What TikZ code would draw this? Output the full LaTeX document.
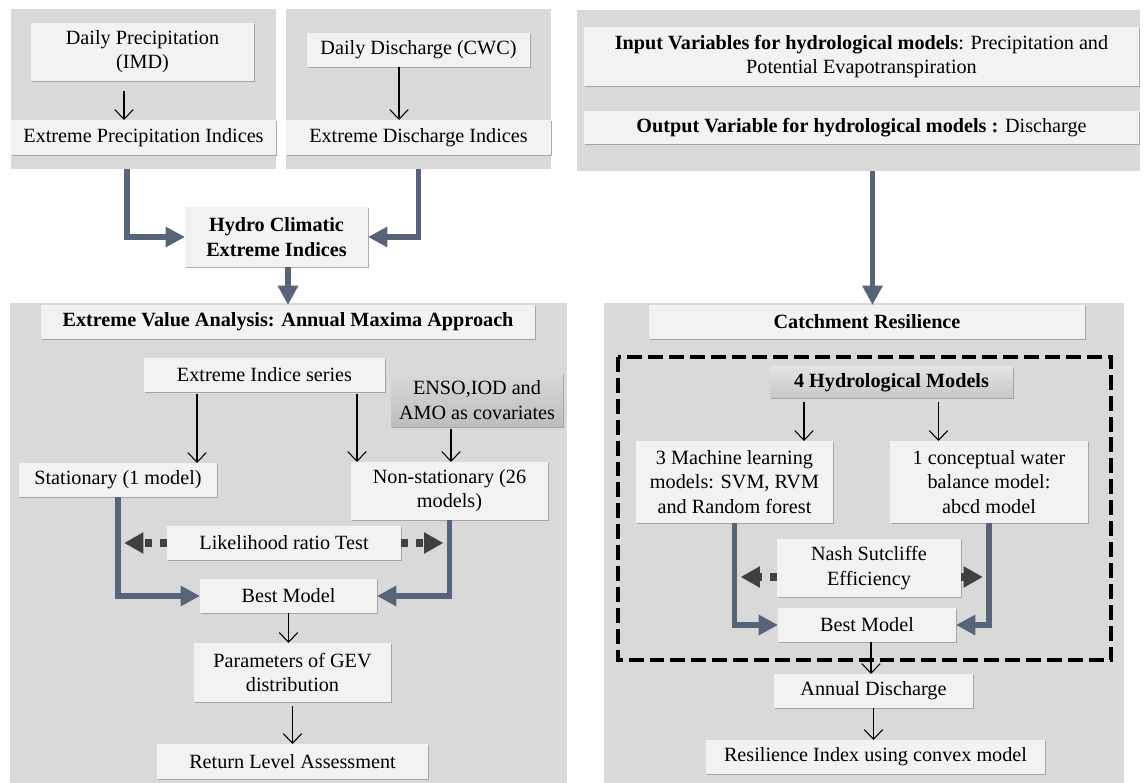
\documentclass[tikz,border=0pt]{standalone}
\usepackage{fontspec}
\setmainfont{Liberation Serif}
\usetikzlibrary{arrows.meta,shadows}
\definecolor{pnlgray}{HTML}{D9D9D9}
\definecolor{boxgray}{HTML}{F2F2F2}
\definecolor{slate}{RGB}{87,99,119}
\definecolor{dotgray}{HTML}{404040}
\begin{document}
\begin{tikzpicture}[x=0.02cm,y=-0.02cm,
  pnl/.style={fill=pnlgray,inner sep=0pt,outer sep=0pt},
  bx/.style={fill=boxgray,inner sep=0pt,outer sep=0pt,align=center,
    font=\fontsize{11.5}{13.8}\selectfont,
    drop shadow={shadow xshift=0.5pt,shadow yshift=-0.7pt,fill=black!40,opacity=0.8}},
  gbx/.style={bx,top color=gray!30,bottom color=gray!52},
  arr/.style={line width=0.6pt,-{Straight Barb[length=5.5pt,width=10.5pt]}},
  fat/.style={draw=slate,line width=3.4pt,-{Triangle[length=11pt,width=11pt]}},
  dots/.style={draw=dotgray,line width=4pt,dash pattern=on 4pt off 4.5pt,
    shorten >=3.5pt,-{Triangle[length=11pt,width=11.5pt]}},
  dashbox/.style={line width=2.8pt,dash pattern=on 8.5pt off 3.4pt}]
\useasboundingbox (0,0) rectangle (1147,783);
\node[pnl,minimum width=5.3cm,minimum height=3.2cm] (pnlA) at (143.5,89) {};
\node[pnl,minimum width=5.3cm,minimum height=3.2cm] (pnlB) at (418.5,89) {};
\node[pnl,minimum width=11.26cm,minimum height=3.22cm] (pnlC) at (858.5,90.5) {};
\node[pnl,minimum width=11.14cm,minimum height=9.6cm] (pnlD) at (288.5,543) {};
\node[pnl,minimum width=10.4cm,minimum height=9.6cm] (pnlE) at (864,543) {};
\draw[dashbox] (618,357) rectangle (1111,660);
\node[bx,minimum width=4.46cm,minimum height=1.16cm] (dprec) at (142.5,52) {Daily Precipitation\\(IMD)};
\node[bx,minimum width=5.3cm,minimum height=0.7cm] (epi) at (143.5,137.5) {Extreme Precipitation Indices};
\node[bx,minimum width=4.46cm,minimum height=0.68cm] (ddis) at (418.5,50) {Daily Discharge (CWC)};
\node[bx,minimum width=5.3cm,minimum height=0.7cm] (edi) at (418.5,137.5) {Extreme Discharge Indices};
\node[bx,minimum width=3.66cm,minimum height=1.2cm] (hydro) at (276.5,237) {\textbf{Hydro Climatic}\\\textbf{Extreme Indices}};
\node[bx,minimum width=9.88cm,minimum height=0.68cm] (eva) at (288,322) {\textbf{Extreme Value Analysis: Annual Maxima Approach}};
\node[bx,minimum width=4.82cm,minimum height=0.68cm] (eis) at (264.5,375) {Extreme Indice series};
\node[gbx,minimum width=3.44cm,minimum height=1.08cm] (enso) at (477,400) {ENSO,IOD and\\AMO as covariates};
\node[bx,minimum width=3.96cm,minimum height=0.68cm] (stat) at (118,480) {Stationary (1 model)};
\node[bx,minimum width=3.94cm,minimum height=1.16cm] (nonstat) at (449.5,491) {Non-stationary (26\\models)};
\node[bx,minimum width=4.68cm,minimum height=0.68cm] (lrt) at (284,543) {Likelihood ratio Test};
\node[bx,minimum width=3.54cm,minimum height=0.68cm] (bestL) at (288.5,596) {Best Model};
\node[bx,minimum width=3.94cm,minimum height=1.18cm] (gev) at (292.5,672.5) {Parameters of GEV\\distribution};
\node[bx,minimum width=5.42cm,minimum height=0.7cm] (rla) at (292.5,761.5) {Return Level Assessment};
\node[bx,minimum width=11.1cm,minimum height=1.18cm] (inp) at (861.5,56.5) {\textbf{Input Variables for hydrological models}: Precipitation and\\Potential Evapotranspiration};
\node[bx,minimum width=11.1cm,minimum height=0.66cm] (outp) at (861.5,127.5) {\textbf{Output Variable for hydrological models :} Discharge};
\node[bx,minimum width=8.72cm,minimum height=0.68cm] (catch) at (867,322) {\textbf{Catchment Resilience}};
\node[gbx,top color=gray!22,bottom color=gray!44,minimum width=4.86cm,minimum height=0.62cm] (hm4) at (891.5,382.5) {\textbf{4 Hydrological Models}};
\node[bx,minimum width=3.94cm,minimum height=1.64cm] (ml) at (734.5,482) {3 Machine learning\\models: SVM, RVM\\and Random forest};
\node[bx,minimum width=3.96cm,minimum height=1.64cm] (cwb) at (989,482) {1 conceptual water\\balance model:\\abcd model};
\node[bx,minimum width=3.68cm,minimum height=1.16cm] (nse) at (869,568) {Nash Sutcliffe\\Efficiency};
\node[bx,minimum width=3.56cm,minimum height=0.68cm] (bestR) at (867,625) {Best Model};
\node[bx,minimum width=3.98cm,minimum height=0.68cm] (ann) at (873.5,691) {Annual Discharge};
\node[bx,minimum width=6.78cm,minimum height=0.68cm] (res) at (875.5,757) {Resilience Index using convex model};
\draw[arr] ([xshift=-0.37cm,yshift=-0.2cm]dprec.south) -- ([xshift=-0.39cm]epi.north);
\draw[arr] ([xshift=-0.39cm]ddis.south) -- ([xshift=-0.39cm]edi.north);
\coordinate (a1) at ([xshift=-0.33cm]pnlA.south);
\draw[fat] (a1) |- (hydro.west);
\draw[fat] (pnlB.south) |- (hydro.east);
\draw[fat] (hydro.south -| eva.north) -- (eva.north);
\coordinate (s1) at ([xshift=-1.35cm,yshift=-1pt]eis.south);
\coordinate (s2) at ([xshift=1.85cm,yshift=-1pt]eis.south);
\coordinate (s3) at ([xshift=-0.52cm,yshift=-1pt]enso.south);
\draw[arr] (s1) -- (s1 |- stat.north);
\draw[arr] (s2) -- (s2 |- nonstat.north);
\draw[arr] (s3) -- (s3 |- nonstat.north);
\draw[fat] (stat.south) |- (bestL.west);
\draw[fat] (nonstat.south) |- (bestL.east);
\draw[dots] (lrt.west) -- (lrt.west -| stat.south);
\draw[dots] (lrt.east) -- (lrt.east -| nonstat.south);
\draw[arr] (bestL.south) -- (bestL.south |- gev.north);
\draw[arr] ([yshift=-2pt]gev.south) -- (gev.south |- rla.north);
\coordinate (c1) at ([xshift=0.11cm]catch.north);
\draw[fat] (c1 |- pnlC.south) -- (c1);
\coordinate (h1) at ([xshift=-1.75cm,yshift=-2pt]hm4.south);
\coordinate (h2) at ([xshift=0.94cm,yshift=-2pt]hm4.south);
\draw[arr] (h1) -- (h1 |- ml.north);
\draw[arr] (h2) -- (h2 |- cwb.north);
\draw[fat] (ml.south) |- (bestR.west);
\draw[fat] (cwb.south) |- (bestR.east);
\coordinate (n1) at ([yshift=-0.18cm]nse.west);
\coordinate (n2) at ([yshift=-0.18cm]nse.east);
\draw[dots] (n1) -- (n1 -| ml.south);
\draw[dots] (n2) -- (n2 -| cwb.south);
\draw[arr] ([xshift=0.08cm]bestR.south) -- ([xshift=0.08cm]bestR.south |- ann.north);
\draw[arr] (ann.south) -- (ann.south |- res.north);
\end{tikzpicture}
\end{document}
